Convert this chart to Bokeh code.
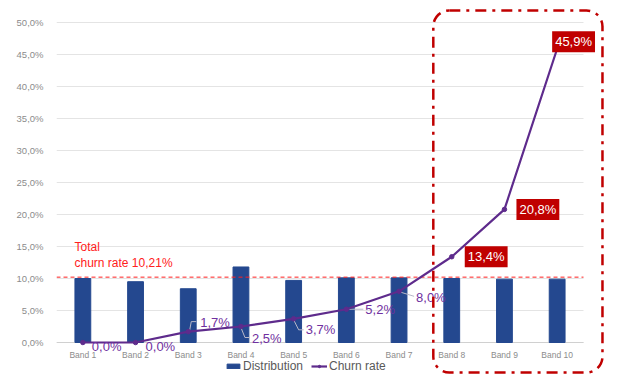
from bokeh.plotting import figure
from bokeh.models import (ColumnDataSource, Label, LabelSet, BoxAnnotation, Legend,
                          LegendItem, CustomJSTickFormatter, FixedTicker, Range1d)
from bokeh.core.properties import value
from bokeh.embed import file_html
from bokeh.resources import INLINE

# ---- data ----
bands = ["Band 1", "Band 2", "Band 3", "Band 4", "Band 5",
         "Band 6", "Band 7", "Band 8", "Band 9", "Band 10"]
distribution = [10.0, 9.5, 8.4, 11.8, 9.7, 10.1, 10.1, 10.0, 9.9, 9.9]
churn_rate = [0.0, 0.0, 1.7, 2.5, 3.7, 5.2, 8.0, 13.4, 20.8, 45.9]
total_churn = 10.21
highlighted = ["Band 8", "Band 9", "Band 10"]
y_ticks = [0, 5, 10, 15, 20, 25, 30, 35, 40, 45, 50]

# ---- layout / style ----
label_dx = [9, 10, 12, 11, 12, 19, 17, 13, 12, -5]     # px
label_dy = [-4, -4, 9, -12, -11, 0, -6, 0, 0, 7]       # px, up positive
PX_X = 52.7   # px per band
PX_Y = 6.4    # px per percentage point
FONT = "Liberation Sans"
BAR = "#24488F"
LINE = "#5E2B8C"
LBL = "#7030A0"
RED = "#C00000"
BRIGHT_RED = "#FF2020"

n = len(bands)
xs = [i + 0.5 for i in range(n)]
src = ColumnDataSource(dict(x=xs, band=bands, dist=distribution, churn=churn_rate))

W, H = 608, 374
left_b, right_b, top_b, bot_b = 56, 4, 4, 0
x_end = (W - left_b - right_b) / PX_X
y_top = (342 - top_b) / PX_Y
y_bot = y_top - (H - top_b - bot_b) / PX_Y

p = figure(x_range=Range1d(0, x_end), y_range=Range1d(y_bot, y_top), width=W, height=H,
           output_backend="svg", toolbar_location=None, x_axis_location=None,
           min_border_left=left_b, min_border_right=right_b,
           min_border_top=top_b, min_border_bottom=bot_b)
p.outline_line_color = None
p.xgrid.visible = False
p.ygrid.visible = False

# grid lines limited to the band area
p.segment(x0=0, x1=n, y0=y_ticks, y1=y_ticks, line_color="#E4E4E4", line_width=1)
# x axis baseline
p.segment(x0=[0], x1=[n], y0=[0], y1=[0], line_color="#D0D0D0", line_width=1)

bars = p.vbar(x="x", top="dist", width=0.30, source=src, color=BAR)

# total churn reference line
p.segment(x0=[0], x1=[n], y0=[total_churn], y1=[total_churn], line_color=BRIGHT_RED,
          line_dash="4 3", line_width=1)

# leader lines (pixel offsets from each point, converted to data units)
leaders = {2: [(1, -1), (3, 10), (8, 10)],
           3: [(0, -1), (4, -11), (9, -11)],
           4: [(0, -1), (5, -11), (10, -11)],
           5: [(3, 0), (17, 0)],
           6: [(2, -1), (15, -5)]}
lx, ly = [], []
for i, pts_px in leaders.items():
    lx.append([xs[i] + dx / PX_X for dx, dy in pts_px])
    ly.append([churn_rate[i] + dy / PX_Y for dx, dy in pts_px])
p.multi_line(xs=lx, ys=ly, line_color="#B8B8C8", line_width=1)

line = p.line(x="x", y="churn", source=src, line_color=LINE, line_width=2.2)
pts = p.scatter(x="x", y="churn", source=src, size=4.5, color=LINE)

# y axis
p.yaxis.ticker = FixedTicker(ticks=y_ticks)
p.yaxis.formatter = CustomJSTickFormatter(code="return tick.toFixed(1).replace('.', ',') + '%';")
p.yaxis.axis_line_color = None
p.yaxis.major_tick_line_color = None
p.yaxis.minor_tick_line_color = None
p.yaxis.major_label_text_color = "#8C8C8C"
p.yaxis.major_label_text_font = FONT
p.yaxis.major_label_text_font_size = "9.5px"
p.yaxis.major_label_standoff = 7

# band labels (category axis)
p.add_layout(LabelSet(x="x", y=0, text="band", source=src, y_offset=-7,
                      text_font=value(FONT), text_font_size=value("8.5px"),
                      text_color="#8C8C8C", text_align="center", text_baseline="top"))

# total churn text
p.add_layout(Label(x=0, y=total_churn, x_offset=18, y_offset=30, text="Total",
                   text_font=FONT, text_font_size="12px", text_color=BRIGHT_RED,
                   text_baseline="middle", text_align="left"))
p.add_layout(Label(x=0, y=total_churn, x_offset=18, y_offset=14,
                   text="churn rate " + f"{total_churn:.2f}".replace(".", ",") + "%",
                   text_font=FONT, text_font_size="12px", text_color=BRIGHT_RED,
                   text_baseline="middle", text_align="left"))

# data labels
for i, (b, v) in enumerate(zip(bands, churn_rate)):
    txt = f"{v:.1f}".replace(".", ",") + "%"
    if b in highlighted:
        lab = Label(x=xs[i], y=v, x_offset=label_dx[i], y_offset=label_dy[i], text=txt,
                    text_font=FONT, text_font_size="13px", text_color="white",
                    text_baseline="middle", text_align="left",
                    background_fill_color=RED, padding=3)
    else:
        lab = Label(x=xs[i], y=v, x_offset=label_dx[i], y_offset=label_dy[i], text=txt,
                    text_font=FONT, text_font_size="13px", text_color=LBL,
                    text_baseline="middle", text_align="left")
    p.add_layout(lab)

# highlight box around the last bands
first = bands.index(highlighted[0])
p.add_layout(BoxAnnotation(left=first + 0.15, right=n + 0.36,
                           top=(342 - 10) / PX_Y, bottom=(342 - 372) / PX_Y,
                           fill_alpha=0, line_color=RED, line_alpha=1, line_width=2.5,
                           line_dash="11 6 3 6", border_radius=16))

legend = Legend(items=[LegendItem(label="Distribution", renderers=[bars]),
                       LegendItem(label="Churn rate", renderers=[line, pts])],
                orientation="horizontal", location=(169, 1),
                label_text_font=FONT, label_text_font_size="12px", label_text_color="#595959",
                glyph_width=16, glyph_height=6, label_standoff=2, spacing=8,
                padding=0, margin=0, border_line_color=None, background_fill_alpha=0,
                label_height=12)
p.add_layout(legend, "center")

open("out.html", "w").write(file_html(p, INLINE))
